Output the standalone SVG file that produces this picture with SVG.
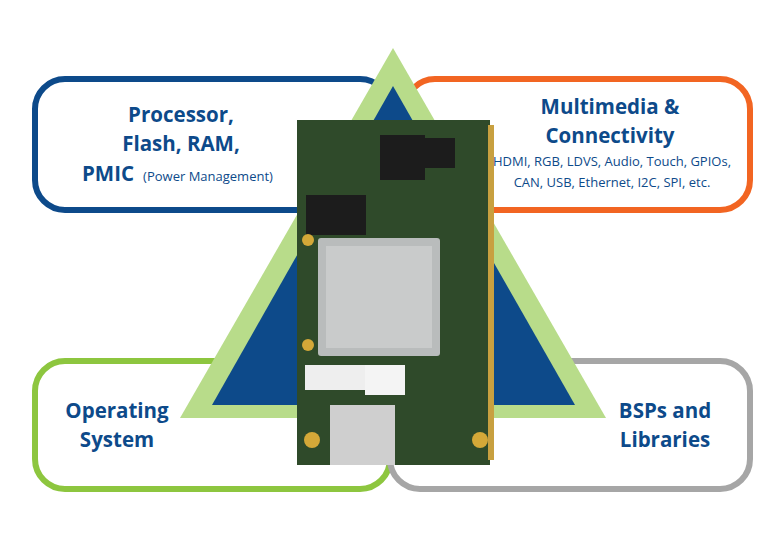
<svg xmlns="http://www.w3.org/2000/svg" width="784" height="555" viewBox="0 0 784 555">
<style>
.box{fill:#fff;stroke-width:6}
.t{font-family:"Open Sans","Liberation Sans",sans-serif;font-weight:bold;fill:#0d4a8a;text-anchor:middle;font-size:20.5px}
.s{font-family:"Open Sans","Liberation Sans",sans-serif;fill:#0d4a8a;text-anchor:middle}
.chip{fill:#1c1c1c}
</style>
<rect width="784" height="555" fill="#fff"/>
<rect id="box-proc" class="box" x="35" y="79" width="355" height="131" rx="30" stroke="#0d4a8a"/>
<rect id="box-mm" class="box" x="405" y="79" width="345" height="131" rx="30" stroke="#f26522"/>
<rect id="box-os" class="box" x="35" y="361" width="355" height="128" rx="30" stroke="#8dc63f"/>
<rect id="box-bsp" class="box" x="390" y="361" width="360" height="128" rx="30" stroke="#a6a6a6"/>
<polygon points="393,48 180,418 606,418" fill="#b8dc8a"/>
<polygon points="393,86 212,405 575,405" fill="#0d4a8a"/>
<g id="board">
<rect x="297" y="120" width="193" height="345" fill="#2f4a2a"/>
<rect x="488" y="125" width="6" height="335" fill="#c8a040"/>
<rect x="380" y="135" width="45" height="45" class="chip"/>
<rect x="420" y="138" width="35" height="30" class="chip"/>
<rect x="306" y="195" width="60" height="40" class="chip"/>
<rect x="318" y="238" width="122" height="118" fill="#b9bcbc" rx="3"/>
<rect x="326" y="246" width="106" height="102" fill="#c9cbcb"/>
<rect x="305" y="365" width="60" height="25" fill="#eee"/>
<rect x="365" y="365" width="40" height="30" fill="#f4f4f4"/>
<rect x="330" y="405" width="65" height="60" fill="#cfcfcf"/>
<circle cx="308" cy="240" r="6" fill="#d4a838"/>
<circle cx="308" cy="345" r="6" fill="#d4a838"/>
<circle cx="312" cy="440" r="8" fill="#d4a838"/>
<circle cx="480" cy="440" r="8" fill="#d4a838"/>
</g>
<g id="labels">
<text class="t" x="181" y="122">Processor,</text>
<text class="t" x="181" y="151">Flash, RAM,</text>
<text class="t" x="108" y="181">PMIC</text>
<text class="s" x="208" y="181" font-size="13">(Power Management)</text>
<text class="t" x="610" y="114">Multimedia &amp;</text>
<text class="t" x="610" y="143">Connectivity</text>
<text class="s" x="612" y="166" font-size="13">HDMI, RGB, LDVS, Audio, Touch, GPIOs,</text>
<text class="s" x="612" y="187" font-size="13">CAN, USB, Ethernet, I2C, SPI, etc.</text>
<text class="t" x="117" y="418">Operating</text>
<text class="t" x="117" y="447">System</text>
<text class="t" x="665" y="418">BSPs and</text>
<text class="t" x="665" y="447">Libraries</text>
</g>
</svg>
